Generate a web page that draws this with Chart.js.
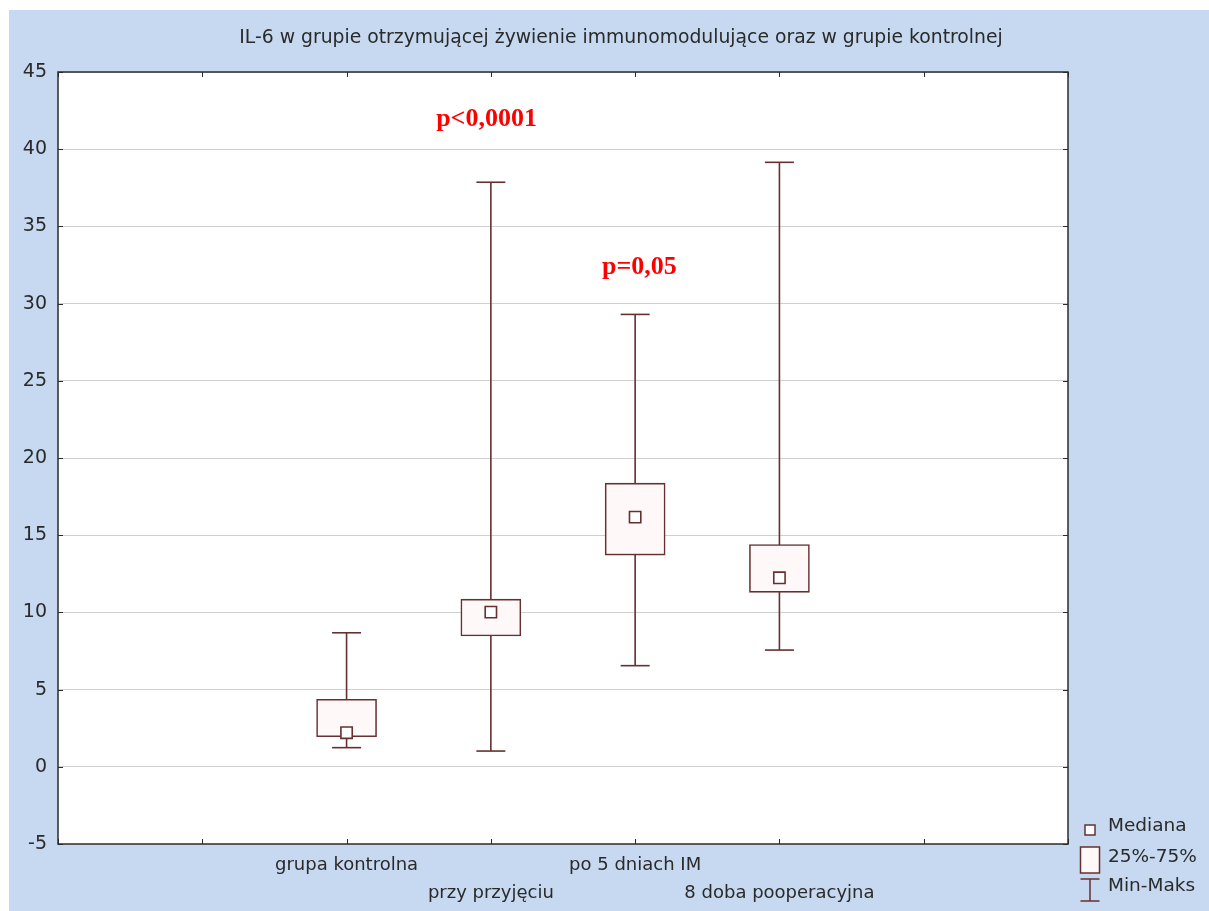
<!DOCTYPE html>
<html>
<head>
<meta charset="utf-8">
<script src="https://cdn.jsdelivr.net/npm/chart.js@4.4.1/dist/chart.umd.min.js"></script>
<style>
  html, body { margin: 0; padding: 0; background: #ffffff; }
  #wrap { position: absolute; left: 9px; top: 10px; width: 1200px; height: 901px; background: #c6d9f0; }
  canvas { display: block; }
</style>
</head>
<body>
<div id="wrap"><canvas id="chart" width="1200" height="901"></canvas></div>
<script>
// dane
var chartTitle = "IL-6 w grupie otrzymującej żywienie immunomodulujące oraz w grupie kontrolnej";
var categories = ["grupa kontrolna", "przy przyjęciu", "po 5 dniach IM", "8 doba pooperacyjna"];
var positions = [2, 3, 4, 5];
var minValues = [1.24, 1.02, 6.55, 7.56];
var maxValues = [8.68, 37.86, 29.3, 39.15];
var q1Values = [1.95, 8.47, 13.71, 11.3];
var q3Values = [4.37, 10.86, 18.37, 14.4];
var medianValues = [2.21, 10.02, 16.17, 12.24];
var legendLabels = ["Mediana", "25%-75%", "Min-Maks"];
var pLabels = ["p<0,0001", "p=0,05"];
var pX = [2.97, 4.03];
var pY = [41.95, 32.35];

var dark = "#663030";
var frameColor = "#2b2b2b";
var sans = "'DejaVu Sans', 'Liberation Sans', Arial, sans-serif";

function whiskerPoints() {
  var pts = [];
  positions.forEach(function(x, i) {
    pts.push({ x: x, y: minValues[i] });
    pts.push({ x: x, y: maxValues[i] });
    pts.push({ x: x, y: null });
  });
  return pts;
}
function capPoints() {
  var pts = [];
  positions.forEach(function(x, i) {
    pts.push({ x: x, y: minValues[i] });
    pts.push({ x: x, y: maxValues[i] });
  });
  return pts;
}
function boxPoints() {
  return positions.map(function(x, i) {
    return { x: x, y: [q1Values[i], q3Values[i]] };
  });
}
function medianPoints() {
  return positions.map(function(x, i) {
    return { x: x, y: medianValues[i] };
  });
}
function xLabel(value) {
  var idx = positions.indexOf(value);
  if (idx < 0) return "";
  // co druga etykieta w drugim wierszu
  return idx % 2 === 0 ? categories[idx] : ["", categories[idx]];
}

var extras = {
  id: "extras",
  beforeDraw: function(chart) {
    var ctx = chart.ctx;
    var a = chart.chartArea;
    ctx.save();
    ctx.fillStyle = "#ffffff";
    ctx.fillRect(a.left, a.top, a.right - a.left, a.bottom - a.top);
    ctx.fillStyle = "#2a2a2a";
    ctx.font = "18.8px " + sans;
    ctx.textAlign = "center";
    ctx.textBaseline = "middle";
    ctx.fillText(chartTitle, 612, 28);
    ctx.restore();
  },
  afterDatasetsDraw: function(chart) {
    var ctx = chart.ctx;
    var a = chart.chartArea;
    var xs = chart.scales.x;
    var ys = chart.scales.y;
    ctx.save();
    // ramka i znaczniki do wewnątrz
    ctx.strokeStyle = frameColor;
    ctx.lineWidth = 1.5;
    ctx.strokeRect(a.left, a.top, a.right - a.left, a.bottom - a.top);
    ctx.lineWidth = 1;
    ctx.beginPath();
    xs.ticks.forEach(function(t) {
      var px = Math.round(xs.getPixelForValue(t.value)) + 0.5;
      ctx.moveTo(px, a.top); ctx.lineTo(px, a.top + 5);
      ctx.moveTo(px, a.bottom); ctx.lineTo(px, a.bottom - 5);
    });
    ys.ticks.forEach(function(t) {
      var py = Math.round(ys.getPixelForValue(t.value)) + 0.5;
      ctx.moveTo(a.left, py); ctx.lineTo(a.left + 5, py);
      ctx.moveTo(a.right, py); ctx.lineTo(a.right - 5, py);
    });
    ctx.stroke();

    // wartości p
    ctx.fillStyle = "#ff0000";
    ctx.font = "bold 26px 'Liberation Serif', 'Times New Roman', serif";
    ctx.textAlign = "center";
    ctx.textBaseline = "middle";
    pLabels.forEach(function(txt, i) {
      ctx.fillText(txt, xs.getPixelForValue(pX[i]), ys.getPixelForValue(pY[i]));
    });

    // legenda
    var lx = a.right + 22;
    var tx = a.right + 40;
    ctx.strokeStyle = dark;
    ctx.lineWidth = 1.5;
    ctx.fillStyle = "#ffffff";
    ctx.fillRect(lx - 5, a.bottom - 19, 10, 10);
    ctx.strokeRect(lx - 5, a.bottom - 19, 10, 10);
    ctx.fillStyle = "#fff8f8";
    ctx.fillRect(lx - 9.5, a.bottom + 3, 19, 26);
    ctx.strokeRect(lx - 9.5, a.bottom + 3, 19, 26);
    ctx.beginPath();
    ctx.moveTo(lx - 9.5, a.bottom + 35); ctx.lineTo(lx + 9.5, a.bottom + 35);
    ctx.moveTo(lx, a.bottom + 35); ctx.lineTo(lx, a.bottom + 57);
    ctx.moveTo(lx - 9.5, a.bottom + 57); ctx.lineTo(lx + 9.5, a.bottom + 57);
    ctx.stroke();
    ctx.fillStyle = "#2a2a2a";
    ctx.font = "18.5px " + sans;
    ctx.textAlign = "left";
    ctx.fillText(legendLabels[0], tx, a.bottom - 18);
    ctx.fillText(legendLabels[1], tx, a.bottom + 13);
    ctx.fillText(legendLabels[2], tx, a.bottom + 42);
    ctx.restore();
  }
};

var chart = new Chart(document.getElementById("chart").getContext("2d"), {
  type: "bar",
  data: {
    datasets: [
      {
        type: "line",
        label: "Min-Maks",
        data: whiskerPoints(),
        borderColor: dark,
        borderWidth: 1.6,
        pointRadius: 0,
        spanGaps: false,
        order: 4
      },
      {
        type: "scatter",
        label: "Min-Maks",
        data: capPoints(),
        pointStyle: "line",
        pointRadius: 14.5,
        borderColor: dark,
        borderWidth: 1.6,
        order: 3
      },
      {
        type: "bar",
        label: "25%-75%",
        data: boxPoints(),
        backgroundColor: "#fff8f8",
        borderColor: dark,
        borderWidth: 1.6,
        borderSkipped: false,
        barThickness: 60,
        order: 2
      },
      {
        type: "scatter",
        label: "Mediana",
        data: medianPoints(),
        pointStyle: "rect",
        pointRadius: 8,
        backgroundColor: "#ffffff",
        borderColor: dark,
        borderWidth: 1.6,
        order: 1
      }
    ]
  },
  options: {
    responsive: false,
    animation: false,
    events: [],
    layout: { padding: { left: 0, top: 62, right: 141, bottom: 0 } },
    plugins: {
      legend: { display: false },
      title: { display: false },
      tooltip: { enabled: false }
    },
    scales: {
      x: {
        type: "linear",
        min: 0,
        max: 7,
        offset: false,
        afterFit: function(scale) { scale.height = 67; },
        grid: { display: false, drawTicks: false, offset: false },
        border: { display: false },
        ticks: {
          stepSize: 1,
          autoSkip: false,
          maxRotation: 0,
          padding: 7,
          color: "#2a2a2a",
          font: { family: sans, size: 18, lineHeight: "28px" },
          callback: function(value) { return xLabel(value); }
        }
      },
      y: {
        min: -5,
        max: 45,
        afterFit: function(scale) { scale.width = 49; },
        grid: { color: "#d0d0d0", lineWidth: 1, drawTicks: false },
        border: { display: false },
        ticks: {
          stepSize: 5,
          padding: 11,
          color: "#2a2a2a",
          font: { family: sans, size: 19 }
        }
      }
    }
  },
  plugins: [extras]
});
</script>
</body>
</html>
